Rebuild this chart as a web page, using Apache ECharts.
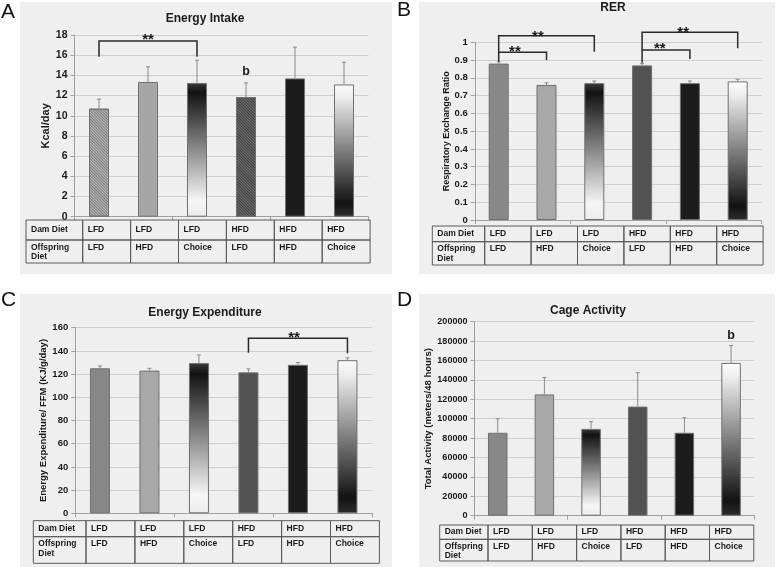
<!DOCTYPE html>
<html><head><meta charset="utf-8">
<script src="https://cdn.jsdelivr.net/npm/echarts@6/dist/echarts.min.js"></script>
<style>html,body{margin:0;padding:0;background:#fff}#c{width:777px;height:567px}</style>
</head><body><div id="c"></div>
<script>
// ---------------- data ----------------
const damDiet = ['LFD', 'LFD', 'LFD', 'HFD', 'HFD', 'HFD'];
const offspringDiet = ['LFD', 'HFD', 'Choice', 'LFD', 'HFD', 'Choice'];
const categories = damDiet.map((d, i) => d + '/' + offspringDiet[i]);

const intakeMean = [10.7, 13.35, 13.25, 11.85, 13.7, 13.1];
const intakeSem = [0.95, 1.5, 2.25, 1.4, 3.1, 2.2];
const rerMean = [0.88, 0.76, 0.77, 0.87, 0.77, 0.78];
const rerSem = [0.01, 0.012, 0.012, 0.01, 0.012, 0.012];
const eeMean = [125, 123, 129.5, 121.5, 128, 132];
const eeSem = [2, 2, 7, 3, 2, 2];
const activityMean = [85500, 125000, 89500, 112500, 85500, 157500];
const activitySem = [14500, 17500, 7500, 35000, 15500, 18000];

// brackets: [fromIndex, toIndex, barHeight, leftLegEnd, rightLegEnd]
const intakeBrackets = [[0, 2, 17.4, 15.85, 15.85]];
const rerBrackets = [[0, 2, 1.037, 0.944, 0.947], [0, 1, 0.944, 0.89, 0.9], [3, 5, 1.056, 0.957, 0.966], [3, 4, 0.957, 0.885, 0.906]];
const eeBrackets = [[3, 5, 150.9, 138.5, 138]];
const activityBrackets = [];

// annotations: [text, categoryPosition, value]
const intakeNotes = [['**', 1.0, 17.9], ['b', 3, 14.4]];
const rerNotes = [['**', 0.82, 1.05], ['**', 0.34, 0.966], ['**', 3.86, 1.073], ['**', 3.37, 0.985]];
const eeNotes = [['**', 3.92, 154.3]];
const activityNotes = [['b', 5, 185600]];

const titles = ['Energy Intake', 'RER', 'Energy Expenditure', 'Cage Activity'];
const yNames = ['Kcal/day', 'Respiratory Exchange Ratio', 'Energy Expenditure/ FFM (KJ/g/day)', 'Total Activity (meters/48 hours)'];
const panelLetters = ['A', 'B', 'C', 'D'];
const tableRowLabels = ['Dam Diet', 'Offspring\nDiet'];

// ---------------- layout / style ----------------
const FONT = '"Liberation Sans", Arial, Helvetica, sans-serif';
const G = echarts.graphic;
const gradDown = () => new G.LinearGradient(0, 0, 0, 1, [
  {offset: 0, color: '#3a3a3a'}, {offset: 0.07, color: '#121212'},
  {offset: 0.88, color: '#f6f6f6'}, {offset: 1, color: '#ececec'}]);
const gradUp = () => new G.LinearGradient(0, 0, 0, 1, [
  {offset: 0, color: '#fdfdfd'}, {offset: 0.1, color: '#ececec'},
  {offset: 0.9, color: '#121212'}, {offset: 1, color: '#2c2c2c'}]);
const hatch = (c) => ({symbol: 'rect', symbolSize: 1, color: c, dashArrayX: [1, 0], dashArrayY: [1, 1], rotation: Math.PI / 4});

const stylesA = [
  {color: '#b8b8b8', decal: hatch('rgba(70,70,70,0.5)')},
  {color: '#a6a6a6'}, {color: gradDown()},
  {color: '#707070', decal: hatch('rgba(30,30,30,0.6)')},
  {color: '#1c1c1c'}, {color: gradUp()}];
const stylesB = [
  {color: '#888888'}, {color: '#a8a8a8'}, {color: gradDown()},
  {color: '#525252'}, {color: '#1c1c1c'}, {color: gradUp()}];

const panels = [
  {grid: {left: 74.5, top: 35, width: 294, height: 181.7}, min: 0, max: 18, interval: 2, tick: 10.5, nameSize: 11, nameGap: 17, barW: 20,
   mean: intakeMean, sem: intakeSem, brackets: intakeBrackets, notes: intakeNotes, styles: stylesA,
   bg: [20, 2, 372, 272], letter: [1, 2], title: [205, 19],
   table: {left: 26, first: 56.7, colW: 47.9, top: 220, h1: 20, h2: 23}},
  {grid: {left: 474.8, top: 42.3, width: 286.8, height: 177.7}, min: 0, max: 1, interval: 0.1, tick: 9.5, nameSize: 9, nameGap: 24, barW: 20,
   mean: rerMean, sem: rerSem, brackets: rerBrackets, notes: rerNotes, styles: stylesB,
   bg: [419, 2, 356, 272], letter: [397, 0], title: [613, 8],
   table: {left: 432.3, first: 52.4, colW: 46.4, top: 226, h1: 15.7, h2: 23.3}},
  {grid: {left: 75.2, top: 327.7, width: 297, height: 185.6}, min: 0, max: 160, interval: 20, tick: 9.5, nameSize: 9.5, nameGap: 27, barW: 20,
   mean: eeMean, sem: eeSem, brackets: eeBrackets, notes: eeNotes, styles: stylesB,
   bg: [20, 294, 372, 273], letter: [1, 290], title: [205, 313],
   table: {left: 33.3, first: 52.7, colW: 48.9, top: 520.7, h1: 16, h2: 26.6}},
  {grid: {left: 474.4, top: 321.7, width: 280, height: 194}, min: 0, max: 200000, interval: 20000, tick: 9, nameSize: 9.5, nameGap: 38, barW: 19.5,
   mean: activityMean, sem: activitySem, brackets: activityBrackets, notes: activityNotes, styles: stylesB,
   bg: [419, 294, 356, 273], letter: [397, 290], title: [588, 311],
   table: {left: 439.7, first: 48.3, colW: 44.3, top: 525, h1: 14.3, h2: 21.7}}
];

// ---------------- build option ----------------
const grids = [], xAxes = [], yAxes = [], series = [], graphics = [];

panels.forEach((p, k) => {
  grids.push(Object.assign({containLabel: false}, p.grid));
  xAxes.push({type: 'category', gridIndex: k, data: categories,
    axisLabel: {show: false},
    axisLine: {lineStyle: {color: '#a0a0a0', width: 1}},
    axisTick: {show: true, length: 4, lineStyle: {color: '#a0a0a0'}}});
  yAxes.push({type: 'value', gridIndex: k, min: p.min, max: p.max, interval: p.interval,
    name: yNames[k], nameLocation: 'middle', nameGap: p.nameGap,
    nameTextStyle: {fontFamily: FONT, fontWeight: 'bold', fontSize: p.nameSize, color: '#1a1a1a'},
    axisLine: {show: true, lineStyle: {color: '#a0a0a0'}},
    axisTick: {show: true, length: 4, lineStyle: {color: '#a0a0a0'}},
    axisLabel: {fontFamily: FONT, fontWeight: 'bold', fontSize: p.tick, color: '#1a1a1a', margin: 7,
      formatter: v => String(Math.round(v * 1000) / 1000)},
    splitLine: {show: true, lineStyle: {color: '#cfcfcf', width: 1}}});

  series.push({type: 'bar', xAxisIndex: k, yAxisIndex: k, barWidth: p.barW, z: 2,
    data: p.mean.map((v, i) => ({value: v, itemStyle: Object.assign({borderColor: '#707070', borderWidth: 1}, p.styles[i])}))});

  // error bars (upper whisker)
  series.push({type: 'custom', xAxisIndex: k, yAxisIndex: k, z: 3,
    data: p.mean.map((v, i) => [i, v, v + p.sem[i]]),
    renderItem: (params, api) => {
      const a = api.coord([api.value(0), api.value(1)]);
      const b = api.coord([api.value(0), api.value(2)]);
      return {type: 'group', children: [
        {type: 'line', shape: {x1: a[0], y1: a[1], x2: b[0], y2: b[1]}, style: {stroke: '#8a8a8a', lineWidth: 1}},
        {type: 'line', shape: {x1: b[0] - 2, y1: b[1], x2: b[0] + 2, y2: b[1]}, style: {stroke: '#8a8a8a', lineWidth: 1}}]};
    }});

  // significance brackets
  if (p.brackets.length) series.push({type: 'custom', xAxisIndex: k, yAxisIndex: k, z: 4, clip: false,
    data: p.brackets.map(b => [b[0], b[2]]),
    renderItem: (params, api) => {
      const b = p.brackets[params.dataIndex];
      const l0 = api.coord([b[0], b[3]]), l1 = api.coord([b[0], b[2]]);
      const r1 = api.coord([b[1], b[2]]), r0 = api.coord([b[1], b[4]]);
      return {type: 'polyline', shape: {points: [l0, l1, r1, r0]}, style: {stroke: '#2a2a2a', lineWidth: 1.5, fill: null}};
    }});

  // text annotations
  series.push({type: 'custom', xAxisIndex: k, yAxisIndex: k, z: 5, clip: false,
    data: p.notes.map(n => [Math.floor(n[1]), n[2]]),
    renderItem: (params, api) => {
      const n = p.notes[params.dataIndex];
      const i0 = Math.floor(n[1]), i1 = Math.min(i0 + 1, categories.length - 1);
      const c0 = api.coord([i0, n[2]]), c1 = api.coord([i1, n[2]]);
      const x = c0[0] + (c1[0] - c0[0]) * (n[1] - i0);
      const star = n[0] === '**';
      return {type: 'text', x: x, y: c0[1] + (star ? 3.5 : 0),
        style: {text: n[0], fontFamily: FONT, fontWeight: 'bold', fontSize: star ? 15 : 12.5, fill: '#1a1a1a', align: 'center', verticalAlign: 'middle'}};
    }});

  // panel background
  graphics.push({type: 'rect', z: -10, shape: {x: p.bg[0], y: p.bg[1], width: p.bg[2], height: p.bg[3]}, style: {fill: '#efefef'}, silent: true});
  // panel letter
  graphics.push({type: 'text', z: 10, x: p.letter[0], y: p.letter[1], style: {text: panelLetters[k], fontFamily: FONT, fontSize: 21, fill: '#111', align: 'left', verticalAlign: 'top'}});
  // title
  graphics.push({type: 'text', z: 10, x: p.title[0], y: p.title[1], style: {text: titles[k], fontFamily: FONT, fontWeight: 'bold', fontSize: 12, fill: '#1a1a1a', align: 'center', verticalAlign: 'middle'}});

  // table
  const t = p.table;
  const colX = [t.left, t.left + t.first];
  for (let i = 1; i <= categories.length; i++) colX.push(t.left + t.first + i * t.colW);
  const rowY = [t.top, t.top + t.h1, t.top + t.h1 + t.h2];
  for (let c = 0; c < colX.length - 1; c++) {
    for (let r = 0; r < 2; r++) {
      graphics.push({type: 'rect', z: 1, shape: {x: colX[c], y: rowY[r], width: colX[c + 1] - colX[c], height: rowY[r + 1] - rowY[r]},
        style: {fill: null, stroke: '#5a5a5a', lineWidth: 1}});
    }
  }
  const txt = (s, x, y, va) => ({type: 'text', z: 2, x: x, y: y,
    style: {text: s, fontFamily: FONT, fontWeight: 'bold', fontSize: 8.5, lineHeight: 9.5, fill: '#1a1a1a', align: 'left', verticalAlign: va}});
  const mid1 = (rowY[0] + rowY[1]) / 2;
  const top2 = rowY[1] + 2.5;
  graphics.push(txt(tableRowLabels[0], colX[0] + 5, mid1, 'middle'));
  graphics.push(txt(tableRowLabels[1], colX[0] + 5, top2, 'top'));
  for (let i = 0; i < categories.length; i++) {
    graphics.push(txt(damDiet[i], colX[i + 1] + 5, mid1, 'middle'));
    graphics.push(txt(offspringDiet[i], colX[i + 1] + 5, top2, 'top'));
  }
});

const chart = echarts.init(document.getElementById('c'), null, {renderer: 'canvas'});
chart.setOption({
  backgroundColor: '#ffffff',
  animation: false,
  grid: grids, xAxis: xAxes, yAxis: yAxes, series: series,
  graphic: {elements: graphics}
});
</script>
</body></html>
